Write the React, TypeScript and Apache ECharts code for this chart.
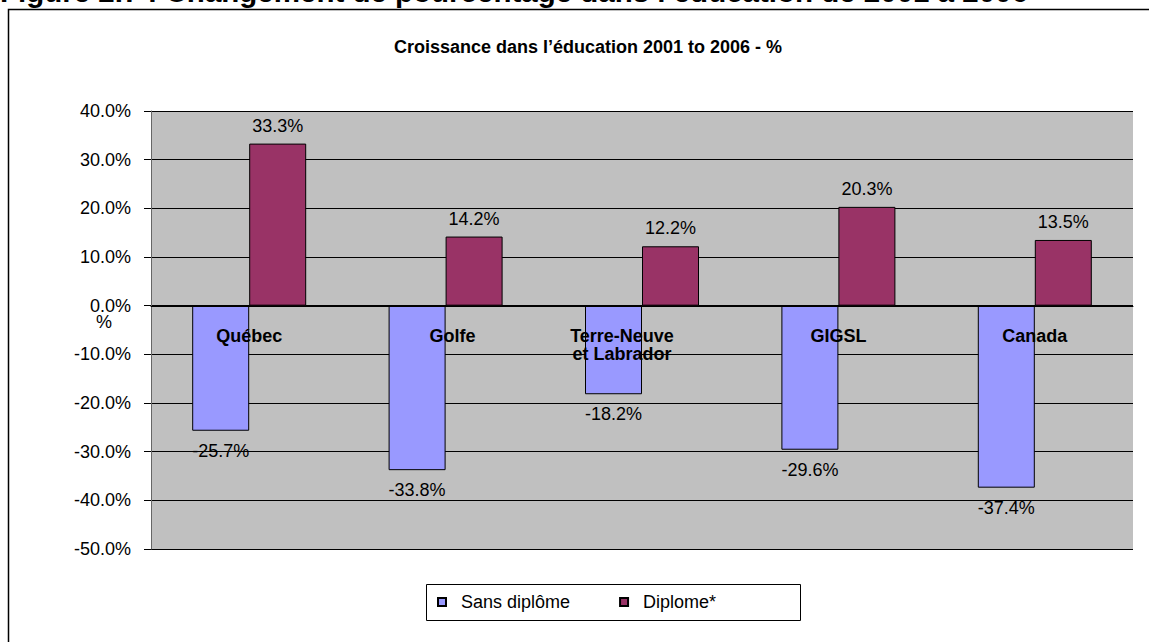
import React, { useEffect, useRef } from "react";
import * as echarts from "echarts";

const categories = ["Québec", "Golfe", "Terre-Neuve\net Labrador", "GIGSL", "Canada"];
const sansDiplome = [-25.7, -33.8, -18.2, -29.6, -37.4];
const diplome = [33.3, 14.2, 12.2, 20.3, 13.5];
const seriesNames = ["Sans diplôme", "Diplome*"];
const figureTitle = "Figure 2.7 : Changement de pourcentage dans l’éducation de 2001 à 2006";
const chartTitle = "Croissance dans l’éducation 2001 to 2006 - %";

const FONT = "'Liberation Sans', Arial, sans-serif";

export default function App() {
  const ref = useRef<HTMLDivElement>(null);
  useEffect(() => {
    const chart = echarts.init(ref.current!, null, { renderer: "svg" });
    const fmt = (v: number) => `${v.toFixed(1)}%`;
    const labelPads: Record<string, number[]> = {
      Golfe: [0, 0, 0, 14],
      "Terre-Neuve\net Labrador": [0, 40, 0, 0],
    };
    const catData = categories.map((c) =>
      labelPads[c] ? { value: c, textStyle: { padding: labelPads[c] } } : c
    );
    chart.setOption({
      animation: false,
      backgroundColor: "#ffffff",
      textStyle: { fontFamily: FONT },
      grid: {
        left: 151,
        right: 16,
        top: 111,
        bottom: 93,
        show: true,
        backgroundColor: "#C0C0C0",
        borderWidth: 0,
      },
      title: {
        text: chartTitle,
        left: 588,
        textAlign: "center",
        top: 38,
        padding: 0,
        textStyle: { fontFamily: FONT, fontSize: 18, fontWeight: "bold", color: "#000" },
      },
      legend: {
        left: 437,
        top: 593,
        padding: 0,
        itemWidth: 8,
        itemHeight: 8,
        itemGap: 49,
        icon: "rect",
        textStyle: { fontFamily: FONT, fontSize: 18, color: "#000", padding: [0, 0, 0, 10] },
        data: seriesNames,
      },
      xAxis: {
        type: "category",
        data: catData,
        z: 10,
        offset: -243,
        axisLine: { show: true, onZero: false, lineStyle: { color: "#000", width: 1 } },
        axisTick: { show: false },
        axisLabel: {
          margin: 21,
          interval: 0,
          fontFamily: FONT,
          fontSize: 18,
          fontWeight: "bold",
          color: "#000",
          lineHeight: 18,
        },
        splitLine: { show: false },
      },
      yAxis: {
        type: "value",
        min: -50,
        max: 40,
        interval: 10,
        axisLine: { show: true, lineStyle: { color: "#666", width: 1 } },
        axisTick: { show: true, length: 7, lineStyle: { color: "#000" } },
        axisLabel: {
          formatter: fmt,
          fontFamily: FONT,
          fontSize: 18,
          color: "#000",
          margin: 20,
        },
        splitLine: { show: true, lineStyle: { color: "#000", width: 1 } },
      },
      series: [
        {
          name: seriesNames[0],
          type: "bar",
          data: sansDiplome,
          barWidth: 57,
          barGap: "0%",
          itemStyle: { color: "#9999FF", borderColor: "#000", borderWidth: 1 },
          label: {
            show: true,
            position: "bottom",
            distance: 11,
            formatter: (p: any) => fmt(p.value),
            fontFamily: FONT,
            fontSize: 18,
            color: "#000",
          },
        },
        {
          name: seriesNames[1],
          type: "bar",
          data: diplome,
          barWidth: 57,
          barGap: "0%",
          itemStyle: { color: "#993366", borderColor: "#000", borderWidth: 1 },
          label: {
            show: true,
            position: "top",
            distance: 9,
            formatter: (p: any) => fmt(p.value),
            fontFamily: FONT,
            fontSize: 18,
            color: "#000",
          },
        },
      ],
      graphic: [
        {
          type: "text",
          left: 0,
          top: -24,
          style: {
            text: figureTitle,
            font: `bold 29.5px ${FONT}`,
            fill: "#000",
          },
        },
        {
          type: "rect",
          shape: { x: 8.5, y: 9.5, width: 1200, height: 700 },
          style: { fill: "none", stroke: "#000", lineWidth: 1.5 },
          z: -1,
        },
        {
          type: "rect",
          shape: { x: 426.5, y: 584.5, width: 374, height: 36 },
          style: { fill: "none", stroke: "#000", lineWidth: 1 },
        },
        {
          type: "text",
          x: 104,
          y: 322,
          style: {
            text: "%",
            font: `18px ${FONT}`,
            fill: "#000",
            align: "center",
            verticalAlign: "middle",
          },
        },
      ],
    });
    return () => chart.dispose();
  }, []);
  return (
    <div
      ref={ref}
      style={{ position: "absolute", left: 0, top: 0, width: 1149, height: 642 }}
    />
  );
}
